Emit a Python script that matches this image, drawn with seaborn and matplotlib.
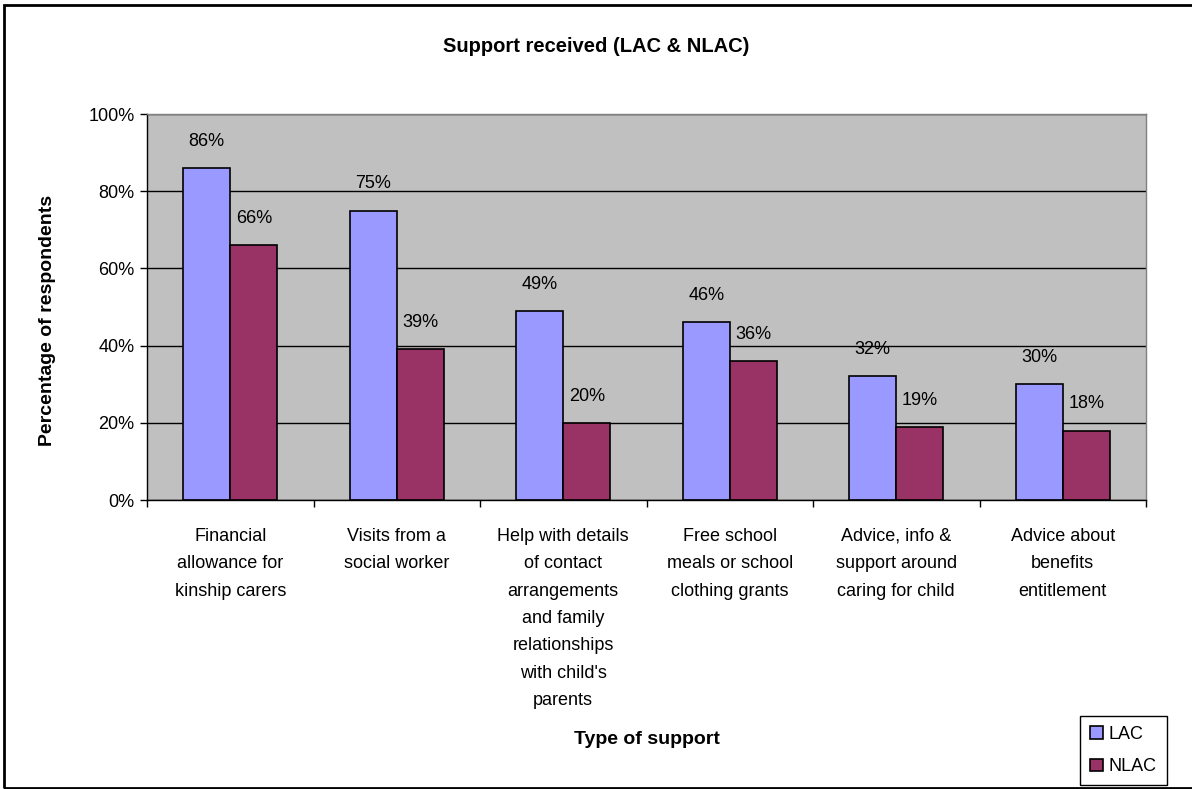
import matplotlib

matplotlib.use("Agg")

import matplotlib.pyplot as plt
import pandas as pd
import seaborn as sns
from matplotlib.patches import Rectangle
from matplotlib.ticker import FixedLocator, FuncFormatter

categories = [
    "Financial\nallowance for\nkinship carers",
    "Visits from a\nsocial worker",
    "Help with details\nof contact\narrangements\nand family\nrelationships\nwith child's\nparents",
    "Free school\nmeals or school\nclothing grants",
    "Advice, info &\nsupport around\ncaring for child",
    "Advice about\nbenefits\nentitlement",
]
series = ["LAC", "NLAC"]
lac = [86, 75, 49, 46, 32, 30]
nlac = [66, 39, 20, 36, 19, 18]
colors = ["#9999FF", "#993366"]

df = pd.DataFrame(
    {
        "category": categories * 2,
        "group": [series[0]] * len(lac) + [series[1]] * len(nlac),
        "value": lac + nlac,
    }
)

sns.set_theme(style="white")
plt.rcParams["font.family"] = ["Liberation Sans", "DejaVu Sans"]
plt.rcParams["text.color"] = "black"
plt.rcParams["xtick.color"] = "black"
plt.rcParams["ytick.color"] = "black"
plt.rcParams["axes.labelcolor"] = "black"

W, H = 1192, 789
fig = plt.figure(figsize=(W / 100, H / 100), dpi=100)
ax = fig.add_axes([147 / W, 1 - 500 / H, 999 / W, 386 / H])

sns.barplot(
    data=df,
    x="category",
    y="value",
    hue="group",
    palette=colors,
    saturation=1,
    width=0.565,
    gap=0,
    errorbar=None,
    edgecolor="black",
    linewidth=1.2,
    ax=ax,
)

for container in ax.containers:
    ax.bar_label(container, labels=[f"{v:.0f}%" for v in container.datavalues],
                 padding=13, fontsize=13)

ax.set_facecolor("#C0C0C0")
ax.set_xlim(-0.5, len(categories) - 0.5)
ax.set_ylim(0, 100)
ax.set_yticks(range(0, 101, 20))
ax.yaxis.set_major_formatter(FuncFormatter(lambda v, _: f"{v:.0f}%"))
ax.yaxis.grid(True, color="black", linewidth=1)
ax.set_axisbelow(True)

ax.set_xticks(range(len(categories)))
ax.set_xticklabels(categories, linespacing=1.8, fontsize=13)
ax.xaxis.set_minor_locator(FixedLocator([i - 0.5 for i in range(len(categories) + 1)]))
ax.tick_params(axis="x", which="major", length=0, pad=20)
ax.tick_params(axis="x", which="minor", direction="out", length=5, width=1, color="black", bottom=True)
ax.tick_params(axis="y", direction="out", length=5, width=1, color="black", left=True, labelsize=13, pad=4)

for side in ["left", "bottom"]:
    ax.spines[side].set_color("black")
    ax.spines[side].set_linewidth(1)
for side in ["top", "right"]:
    ax.spines[side].set_color("#808080")
    ax.spines[side].set_linewidth(1)

ax.set_xlabel("")
ax.set_ylabel("")

handles, labels = ax.get_legend_handles_labels()
ax.legend(
    handles,
    labels,
    loc="upper left",
    bbox_to_anchor=(1080 / W, 1 - 716 / H),
    bbox_transform=fig.transFigure,
    borderaxespad=0,
    fancybox=False,
    edgecolor="black",
    framealpha=1,
    handlelength=0.7,
    handleheight=0.7,
    handletextpad=0.35,
    borderpad=0.55,
    labelspacing=0.85,
    fontsize=13,
)

fig.text(0.5, 1 - 46 / H, "Support received (LAC & NLAC)", ha="center", va="center",
         fontsize=14.5, fontweight="bold")
fig.text(48 / W, 1 - 320 / H, "Percentage of respondents", ha="center", va="center",
         rotation=90, fontsize=14, fontweight="bold")
fig.text(647 / W, 1 - 740 / H, "Type of support", ha="center", va="center",
         fontsize=14, fontweight="bold")

fig.patches.append(Rectangle((4 / W, 1.5 / H), 1.0, 783 / H, transform=fig.transFigure,
                             fill=False, edgecolor="black", linewidth=2))

fig.savefig("out.png", dpi=100)
